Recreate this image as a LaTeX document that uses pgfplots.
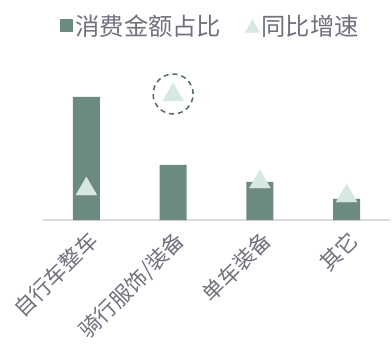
\documentclass[border=0pt]{standalone}
\usepackage{fontspec}
\setmainfont{Noto Sans CJK SC}
\usepackage{pgfplots}
\pgfplotsset{compat=1.18}
\definecolor{barc}{HTML}{6D8A82}
\definecolor{tric}{HTML}{D6E8E0}
\definecolor{textc}{HTML}{70707F}
\definecolor{linec}{HTML}{DADADF}
\definecolor{circc}{HTML}{4F6B63}
\begin{document}
\begin{tikzpicture}[x=1bp,y=1bp]
\useasboundingbox (0,0) rectangle (392,347);
\begin{axis}[
  at={(43bp,127bp)}, anchor=south west,
  scale only axis, width=347bp, height=160bp,
  xmin=-0.5, xmax=3.5, ymin=0, ymax=160,
  clip=false,
  axis y line=none,
  axis x line*=bottom,
  x axis line style={-, color=linec, line width=1.3bp},
  xtick={0,1,2,3},
  xticklabels={自行车整车,骑行服饰/装备,单车装备,其它},
  xtick style={draw=none},
  major tick length=0pt,
  xticklabel shift=8bp,
  xticklabel style={rotate=45, anchor=north east, text=textc, font=\fontsize{21.5bp}{25bp}\selectfont, inner sep=1bp},
  legend style={at={(0.483,1.21)}, anchor=center, draw=none, fill=none, legend columns=2,
    font=\fontsize{24.3bp}{28bp}\selectfont, text=textc,
    /tikz/every even column/.append style={column sep=22bp},
    legend cell align=left},
]
\addplot[ybar, bar width=27bp, fill=barc, draw=none,
  legend image code/.code={\fill[barc] (0bp,-6bp) rectangle (13bp,7bp);}]
  coordinates {(0,123) (1,55) (2,38) (3,21)};
\addlegendentry{消费金额占比}
\addplot[only marks, mark=triangle*, mark size=12bp, color=tric, mark options={fill=tric, draw=tric},
  legend image code/.code={\fill[tric] (0bp,-6bp) -- (14bp,-6bp) -- (7bp,7bp) -- cycle;}]
  coordinates {(0,31) (1,125) (2,38) (3,24)};
\addlegendentry{同比增速}
\draw[circc, dashed, line width=1.5bp, dash pattern=on 5bp off 4bp] (axis cs:1,126) circle[radius=20bp];
\end{axis}
\end{tikzpicture}
\end{document}
